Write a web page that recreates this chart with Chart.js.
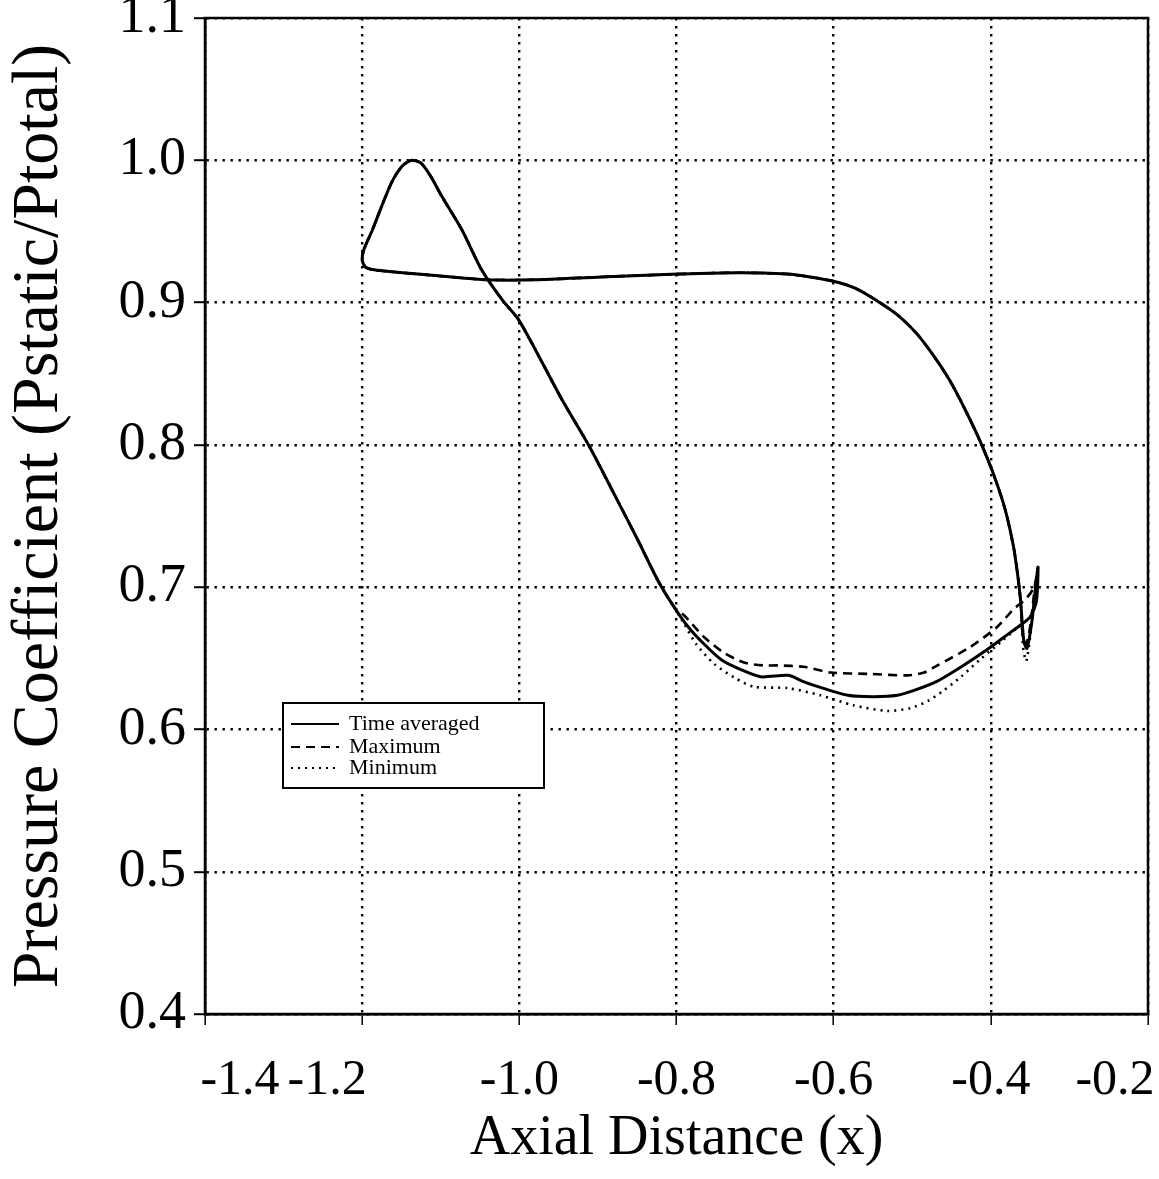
<!DOCTYPE html>
<html>
<head>
<meta charset="utf-8">
<script src="https://cdn.jsdelivr.net/npm/chart.js@4"></script>
<style>
  html, body { margin: 0; padding: 0; background: #fff; }
  #wrap { width: 1159px; height: 1179px; }
</style>
</head>
<body>
<div id="wrap"><canvas id="cpChart" width="1159" height="1179"></canvas></div>
<script>
// shared part of the loop: trailing edge -> upper surface -> nose -> diagonal
const sharedX = [-0.362, -0.365, -0.371, -0.382, -0.397, -0.414, -0.432, -0.452, -0.472, -0.494,
  -0.518, -0.544, -0.572, -0.600, -0.630, -0.658, -0.722, -0.798, -0.896, -0.981,
  -1.039, -1.086, -1.149, -1.185, -1.196, -1.200, -1.198, -1.187, -1.175, -1.162,
  -1.149, -1.137, -1.125, -1.112, -1.099, -1.073, -1.048, -1.022, -1.001, -0.973,
  -0.946, -0.911, -0.878, -0.850, -0.823, -0.803];
const sharedY = [0.690, 0.705, 0.728, 0.755, 0.780, 0.803, 0.824, 0.845, 0.862, 0.878,
  0.891, 0.901, 0.910, 0.915, 0.918, 0.920, 0.921, 0.920, 0.918, 0.916,
  0.916, 0.918, 0.921, 0.923, 0.925, 0.930, 0.937, 0.951, 0.968, 0.985,
  0.996, 1.000, 0.998, 0.988, 0.975, 0.951, 0.923, 0.902, 0.888, 0.860,
  0.832, 0.799, 0.764, 0.734, 0.704, 0.686];

// lower surface + trailing edge, per series
const avgLowerX = [-0.785, -0.765, -0.743, -0.718, -0.693, -0.658, -0.640, -0.625, -0.582, -0.549,
  -0.519, -0.495, -0.468, -0.435, -0.405, -0.383, -0.363, -0.350, -0.342, -0.340,
  -0.343, -0.348, -0.354, -0.358, -0.362];
const avgLowerY = [0.672, 0.660, 0.649, 0.642, 0.637, 0.638, 0.634, 0.631, 0.624, 0.623,
  0.624, 0.628, 0.634, 0.645, 0.656, 0.665, 0.673, 0.679, 0.690, 0.714,
  0.700, 0.675, 0.657, 0.662, 0.690];

const maxLowerX = [-0.790, -0.765, -0.740, -0.714, -0.690, -0.671, -0.638, -0.604, -0.553, -0.506,
  -0.485, -0.468, -0.426, -0.392, -0.372, -0.355, -0.345, -0.340, -0.344, -0.350,
  -0.355, -0.359, -0.362];
const maxLowerY = [0.680, 0.665, 0.654, 0.647, 0.645, 0.645, 0.644, 0.640, 0.639, 0.638,
  0.640, 0.645, 0.658, 0.672, 0.684, 0.692, 0.700, 0.714, 0.700, 0.672,
  0.660, 0.665, 0.690];

const minLowerX = [-0.790, -0.775, -0.752, -0.725, -0.702, -0.658, -0.617, -0.575, -0.532, -0.502,
  -0.480, -0.461, -0.438, -0.414, -0.384, -0.363, -0.350, -0.343, -0.340, -0.344,
  -0.350, -0.355, -0.359, -0.362];
const minLowerY = [0.674, 0.660, 0.646, 0.636, 0.630, 0.629, 0.624, 0.617, 0.613, 0.615,
  0.620, 0.627, 0.637, 0.649, 0.663, 0.673, 0.679, 0.688, 0.708, 0.695,
  0.665, 0.648, 0.658, 0.690];

const seriesNames = ["Time averaged", "Maximum", "Minimum"];
const xTicks = [-1.4, -1.2, -1.0, -0.8, -0.6, -0.4, -0.2];
const yTicks = [0.4, 0.5, 0.6, 0.7, 0.8, 0.9, 1.0, 1.1];

const SERIF = "'Liberation Serif', 'DejaVu Serif', serif";

function toPoints(xs, ys) {
  return xs.map((x, i) => ({ x: x, y: ys[i] }));
}

const avgPts = toPoints(sharedX.concat(avgLowerX), sharedY.concat(avgLowerY));
const maxPts = toPoints(sharedX.concat(maxLowerX), sharedY.concat(maxLowerY));
const minPts = toPoints(sharedX.concat(minLowerX), sharedY.concat(minLowerY));

const whiteBg = {
  id: "whiteBg",
  beforeDraw(chart) {
    const c = chart.ctx;
    c.save();
    c.fillStyle = "#fff";
    c.fillRect(0, 0, chart.width, chart.height);
    c.restore();
  }
};

// box around plot + x tick labels + legend
const extras = {
  id: "extras",
  afterDraw(chart) {
    const c = chart.ctx;
    const a = chart.chartArea;
    const xs = chart.scales.x;

    c.save();
    c.strokeStyle = "#000";
    c.lineWidth = 2.5;
    c.strokeRect(a.left, a.top, a.right - a.left, a.bottom - a.top);

    // x labels (end labels pulled inward like the original)
    c.fillStyle = "#000";
    c.font = "50px " + SERIF;
    c.textAlign = "center";
    c.textBaseline = "middle";
    const nudge = { 0: 35, 1: -35 };
    xTicks.forEach((v, i) => {
      let px = xs.getPixelForValue(v);
      if (nudge[i] !== undefined) px += nudge[i];
      if (i === xTicks.length - 1) px -= 33;
      c.fillText(v.toFixed(1), px, 1081);
    });

    // legend
    const bx = 283, by = 703, bw = 261, bh = 85;
    c.lineWidth = 2;
    c.setLineDash([]);
    c.fillStyle = "#fff";
    c.fillRect(bx, by, bw, bh);
    c.strokeRect(bx, by, bw, bh);
    const rows = [724, 747, 768];
    c.font = "22px " + SERIF;
    c.textAlign = "left";
    chart.data.datasets.forEach((ds, i) => {
      c.beginPath();
      c.lineWidth = 1.8;
      c.setLineDash(ds.borderDash || []);
      c.moveTo(291, rows[i]);
      c.lineTo(339, rows[i]);
      c.stroke();
      c.setLineDash([]);
      c.fillStyle = "#000";
      c.fillText(ds.label, 349, rows[i]);
    });
    c.restore();
  }
};

const ctx = document.getElementById("cpChart").getContext("2d");

new Chart(ctx, {
  type: "scatter",
  data: {
    datasets: [
      { label: seriesNames[0], data: avgPts, borderDash: [], borderWidth: 3 },
      { label: seriesNames[1], data: maxPts, borderDash: [9, 6], borderWidth: 2.6 },
      { label: seriesNames[2], data: minPts, borderDash: [2, 5], borderWidth: 2.6 }
    ].map(d => Object.assign(d, {
      showLine: true,
      pointRadius: 0,
      borderColor: "#000",
      backgroundColor: "#000",
      tension: 0.25,
      fill: false
    }))
  },
  options: {
    responsive: false,
    animation: false,
    layout: { padding: { left: 0, right: 11, top: 18, bottom: 0 } },
    plugins: {
      legend: { display: false },
      tooltip: { enabled: false }
    },
    scales: {
      x: {
        type: "linear",
        min: -1.4,
        max: -0.2,
        afterBuildTicks(scale) {
          scale.ticks = xTicks.map(v => ({ value: v }));
        },
        afterFit(scale) {
          scale.height = 165;
          scale.paddingLeft = 0;
          scale.paddingRight = 0;
        },
        ticks: { display: false },
        grid: {
          color: "#000",
          lineWidth: 2.4,
          drawTicks: true,
          tickLength: 11,
          tickWidth: 1.5,
          tickColor: "#000",
          tickBorderDash: []
        },
        border: { display: true, color: "#000", width: 2.5, dash: [2.4, 5.6] },
        title: {
          display: true,
          text: "Axial Distance (x)",
          color: "#000",
          font: { family: SERIF, size: 56 },
          padding: { top: 0, bottom: 6 }
        }
      },
      y: {
        type: "linear",
        min: 0.4,
        max: 1.1,
        afterBuildTicks(scale) {
          scale.ticks = yTicks.map(v => ({ value: v }));
        },
        afterFit(scale) {
          scale.width = 205;
          scale.paddingTop = 0;
          scale.paddingBottom = 0;
        },
        ticks: {
          color: "#000",
          padding: 8,
          font: { family: SERIF, size: 54 },
          callback: v => Number(v).toFixed(1)
        },
        grid: {
          color: "#000",
          lineWidth: 2.4,
          drawTicks: true,
          tickLength: 11,
          tickWidth: 2,
          tickColor: "#000",
          tickBorderDash: []
        },
        border: { display: true, color: "#000", width: 2.5, dash: [2.4, 5.6] },
        title: {
          display: true,
          text: "Pressure Coefficient (Pstatic/Ptotal)",
          color: "#000",
          font: { family: SERIF, size: 66 },
          padding: { top: 0, bottom: 0 }
        }
      }
    }
  },
  plugins: [whiteBg, extras]
});
</script>
</body>
</html>
